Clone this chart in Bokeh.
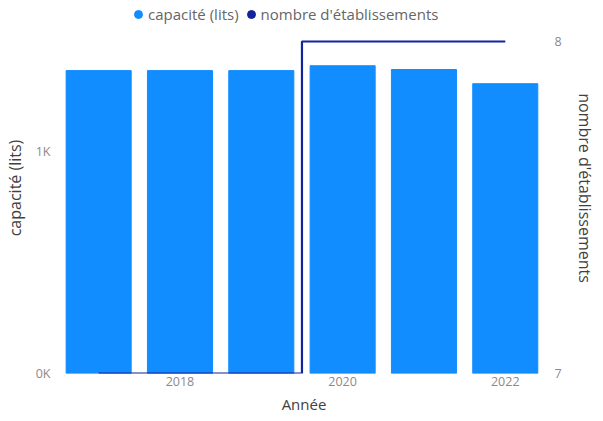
from bokeh.plotting import figure
from bokeh.models import Range1d, LinearAxis, FixedTicker, CustomJSTickFormatter, Legend, LegendItem, ColumnDataSource
from bokeh.embed import file_html
from bokeh.resources import INLINE

years = [2017, 2018, 2019, 2020, 2021, 2022]
capacite = [1365, 1365, 1365, 1387, 1370, 1306]
etablissements = [7, 7, 7, 8, 8, 8]
x_ticks = [2018, 2020, 2022]
left_ticks = [0, 1000]
right_ticks = [7, 8]

BAR = "#118DFF"
LINE = "#12239E"
FONT = "Open Sans"

# frame extends to near the top so that the legend (drawn inside it) is not clipped
p = figure(width=603, height=421, output_backend="svg", toolbar_location=None,
           x_range=Range1d(2016.58, 2022.47), y_range=Range1d(0, 1672),
           min_border_left=62, min_border_right=60, min_border_bottom=48, min_border_top=2)
p.extra_y_ranges = {"right": Range1d(7, 8.1175),
                    "proxy": Range1d(-1e7, -1e7 + 1)}  # keeps legend proxies off-screen

src = ColumnDataSource(dict(x=years, cap=capacite, n=etablissements))
bars = p.vbar(x="x", top="cap", width=0.8, source=src, color=BAR)
line = p.step(x="x", y="n", mode="center", source=src, y_range_name="right", line_color=LINE, line_width=2.2)

# legend proxies (circles), mapped outside the visible area
d1 = p.scatter(x="x", y="cap", source=src, marker="circle", size=10, color=BAR, y_range_name="proxy")
d2 = p.scatter(x="x", y="n", source=src, marker="circle", size=10, color=LINE, y_range_name="proxy")
legend = Legend(items=[LegendItem(label="capacité (lits)", renderers=[d1]),
                       LegendItem(label="nombre d'établissements", renderers=[d2])],
                orientation="horizontal", location=(64, 349),
                label_text_font=FONT, label_text_font_size="15px", label_text_color="#666666",
                glyph_width=20, glyph_height=20, spacing=2, label_standoff=0,
                padding=0, margin=0, border_line_alpha=0, background_fill_alpha=0)
p.add_layout(legend)

p.xgrid.visible = False
p.ygrid.visible = False
p.outline_line_color = None

def style(ax):
    ax.axis_line_color = None
    ax.major_tick_line_color = None
    ax.minor_tick_line_color = None
    ax.major_tick_out = 0
    ax.major_tick_in = 0
    ax.minor_tick_out = 0
    ax.major_label_text_font = FONT
    ax.major_label_text_font_size = "12.5px"
    ax.major_label_text_color = "#8a8a8a"
    ax.axis_label_text_font = FONT
    ax.axis_label_text_font_size = "16px"
    ax.axis_label_text_font_style = "normal"
    ax.axis_label_text_color = "#404040"

xa = p.xaxis[0]
xa.ticker = FixedTicker(ticks=x_ticks)
xa.axis_label = "Année"
style(xa)
xa.axis_label_text_font_size = "15px"
xa.major_label_standoff = 3
xa.axis_label_standoff = 5

ya = p.yaxis[0]
ya.ticker = FixedTicker(ticks=left_ticks)
ya.formatter = CustomJSTickFormatter(code="return (tick/1000).toFixed(0) + 'K';")
ya.axis_label = "capacité (lits)"
ya.bounds = (0, 1496)
style(ya)
ya.major_label_standoff = 14
ya.axis_label_standoff = 7

ra = LinearAxis(y_range_name="right", ticker=FixedTicker(ticks=right_ticks), axis_label="nombre d'établissements")
ra.bounds = (7, 8)
style(ra)
ra.major_label_standoff = 11
ra.axis_label_standoff = 9
p.add_layout(ra, "right")

open("out.html", "w").write(file_html(p, INLINE))
